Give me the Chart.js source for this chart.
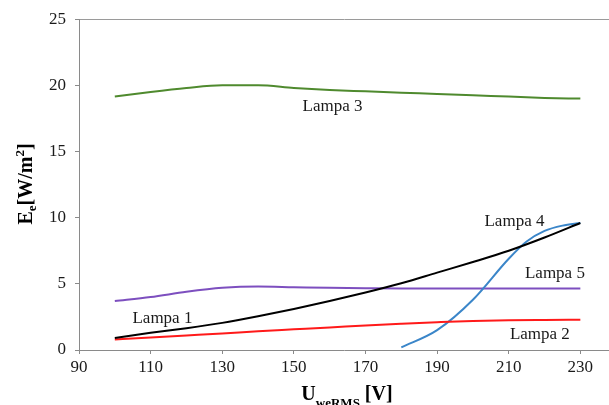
<!DOCTYPE html>
<html>
<head>
<meta charset="utf-8">
<script src="https://cdn.jsdelivr.net/npm/chart.js@4.4.1/dist/chart.umd.min.js"></script>
<style>
  html, body { margin: 0; padding: 0; background: #fff; overflow: hidden; }
  #wrap { width: 609px; height: 405px; position: relative; }
</style>
</head>
<body>
<div id="wrap"><canvas id="c" width="609" height="405"></canvas></div>
<script>
// ---- data ----
const xTicks = [90, 110, 130, 150, 170, 190, 210, 230];
const yTicks = [0, 5, 10, 15, 20, 25];

const volts   = [100, 110, 120, 130, 140, 150, 160, 170, 180, 190, 200, 210, 220, 230];
const lampa1  = [0.9, 1.3, 1.65, 2.05, 2.55, 3.1, 3.7, 4.35, 5.05, 5.85, 6.65, 7.5, 8.5, 9.6];
const lampa2  = [0.8, 0.95, 1.1, 1.25, 1.42, 1.56, 1.7, 1.85, 1.98, 2.1, 2.2, 2.25, 2.27, 2.28];
const lampa3  = [19.15, 19.5, 19.8, 20.0, 20.0, 19.8, 19.65, 19.55, 19.45, 19.35, 19.25, 19.15, 19.05, 19.0];
const lampa5  = [3.7, 4.0, 4.4, 4.7, 4.8, 4.75, 4.7, 4.67, 4.65, 4.65, 4.65, 4.65, 4.65, 4.65];
const volts4  = [180, 190, 200, 210, 215, 220, 225, 230];
const lampa4  = [0.2, 1.5, 3.8, 6.9, 8.2, 9.0, 9.4, 9.6];

const seriesNames = ['Lampa 1', 'Lampa 2', 'Lampa 3', 'Lampa 4', 'Lampa 5'];

function pts(xs, ys) { return xs.map((x, i) => ({ x: x, y: ys[i] })); }

const colors = ['#000000', '#ff1a1a', '#4f8a2e', '#3b86c9', '#7d4fbf'];

const datasets = [
  { label: seriesNames[0], data: pts(volts, lampa1), borderColor: colors[0] },
  { label: seriesNames[1], data: pts(volts, lampa2), borderColor: colors[1] },
  { label: seriesNames[2], data: pts(volts, lampa3), borderColor: colors[2] },
  { label: seriesNames[3], data: pts(volts4, lampa4), borderColor: colors[3] },
  { label: seriesNames[4], data: pts(volts, lampa5), borderColor: colors[4] }
].map(d => Object.assign(d, {
  borderWidth: 2,
  pointRadius: 0,
  fill: false,
  cubicInterpolationMode: 'monotone',
  showLine: true
}));

// label anchors in data coordinates
const seriesLabelAnchors = [
  { text: seriesNames[0], x: 113.3, y: 2.4 },
  { text: seriesNames[1], x: 218.7, y: 1.2 },
  { text: seriesNames[2], x: 160.8, y: 18.4 },
  { text: seriesNames[3], x: 211.6, y: 9.7 },
  { text: seriesNames[4], x: 222.9, y: 5.8 }
];

const SERIF = '"Liberation Serif", "Times New Roman", "DejaVu Serif", serif';

function drawRich(ctx, parts, cx, baseY) {
  let total = 0;
  parts.forEach(p => { ctx.font = 'bold ' + p.size + 'px ' + SERIF; p.w = ctx.measureText(p.t).width; total += p.w; });
  let x = cx - total / 2;
  parts.forEach(p => {
    ctx.font = 'bold ' + p.size + 'px ' + SERIF;
    ctx.fillText(p.t, x, baseY + p.dy);
    x += p.w;
  });
}

const annot = {
  id: 'annot',
  afterDraw(chart) {
    const ctx = chart.ctx;
    const xs = chart.scales.x, ys = chart.scales.y;
    ctx.save();
    ctx.fillStyle = '#1a1a1a';
    ctx.textAlign = 'center';
    ctx.textBaseline = 'middle';
    ctx.font = '17px ' + SERIF;
    seriesLabelAnchors.forEach(a => {
      ctx.fillText(a.text, xs.getPixelForValue(a.x), ys.getPixelForValue(a.y));
    });
    ctx.textAlign = 'left';
    ctx.textBaseline = 'alphabetic';
    ctx.fillStyle = '#000';
    drawRich(ctx, [
      { t: 'U', size: 20, dy: 0 },
      { t: 'weRMS', size: 13, dy: 7 },
      { t: ' [V]', size: 20, dy: 0 }
    ], 347, 400);
    ctx.save();
    ctx.translate(32, 184);
    ctx.rotate(-Math.PI / 2);
    drawRich(ctx, [
      { t: 'E', size: 20, dy: 0 },
      { t: 'e', size: 13, dy: 4 },
      { t: '[W/m', size: 20, dy: 0 },
      { t: '2', size: 13, dy: -8 },
      { t: ']', size: 20, dy: 0 }
    ], 0, 0);
    ctx.restore();
    ctx.restore();
  }
};

new Chart(document.getElementById('c'), {
  type: 'scatter',
  data: { datasets: datasets },
  options: {
    responsive: false,
    animation: false,
    layout: { padding: { top: 19, right: 0, bottom: 0, left: 0 } },
    plugins: { legend: { display: false }, tooltip: { enabled: false } },
    scales: {
      x: {
        type: 'linear',
        min: 90,
        max: 238,
        afterBuildTicks: s => { s.ticks = xTicks.map(v => ({ value: v })); },
        afterFit: s => { s.height = 55; },
        grid: { drawOnChartArea: false, drawTicks: true, tickLength: 4, tickColor: '#8a8a8a' },
        border: { display: true, color: '#8a8a8a', width: 1 },
        ticks: { color: '#1a1a1a', font: { family: SERIF, size: 17 }, padding: 3, maxRotation: 0, autoSkip: false }
      },
      y: {
        type: 'linear',
        min: 0,
        max: 25,
        afterBuildTicks: s => { s.ticks = yTicks.map(v => ({ value: v })); },
        afterFit: s => { s.width = 79; },
        grid: {
          drawOnChartArea: true,
          color: c => (c.tick && c.tick.value === 25) ? '#9a9a9a' : 'rgba(0,0,0,0)',
          drawTicks: true, tickLength: 4, tickColor: '#8a8a8a'
        },
        border: { display: true, color: '#8a8a8a', width: 1 },
        ticks: { color: '#1a1a1a', font: { family: SERIF, size: 17 }, padding: 9, autoSkip: false }
      }
    }
  },
  plugins: [annot]
});
</script>
</body>
</html>
